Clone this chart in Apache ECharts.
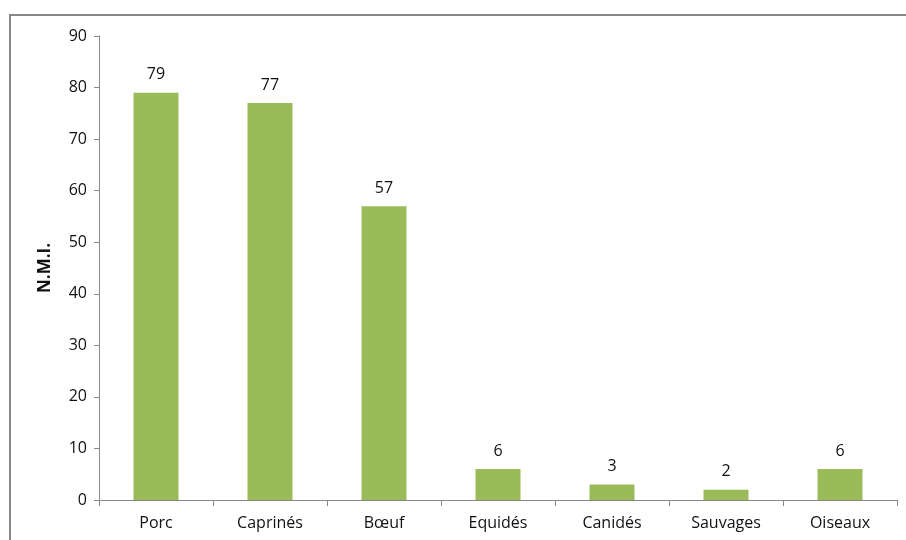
<!DOCTYPE html>
<html><head><meta charset="utf-8">
<script src="https://cdn.jsdelivr.net/npm/echarts@6/dist/echarts.min.js"></script>
<style>html,body{margin:0;padding:0;background:#fff}#c{width:906px;height:540px}</style>
</head><body><div id="c"></div>
<script>
var categories = ['Porc','Caprinés','Bœuf','Equidés','Canidés','Sauvages','Oiseaux'];
var values = [79,77,57,6,3,2,6];
var yTicks = {min:0, max:90, interval:10};
var yName = 'N.M.I.';

var chart = echarts.init(document.getElementById('c'));
var font = '"Open Sans", sans-serif';
chart.setOption({
  animation:false,
  backgroundColor:'#fff',
  graphic:[{type:'rect', shape:{x:10,y:15,width:1000,height:1000}, style:{fill:'none', stroke:'#888', lineWidth:2}}],
  grid:{left:99, right:9, top:36, bottom:40, containLabel:false},
  xAxis:{type:'category', data:categories,
    axisLine:{lineStyle:{color:'#888'}},
    axisTick:{show:true, alignWithLabel:false, length:6, lineStyle:{color:'#888'}},
    axisLabel:{color:'#111', fontSize:16, fontFamily:font, margin:15}},
  yAxis:{type:'value', min:yTicks.min, max:yTicks.max, interval:yTicks.interval,
    name:yName, nameLocation:'middle', nameGap:45, nameRotate:90,
    nameTextStyle:{fontWeight:'bold', fontSize:17, color:'#111', fontFamily:font},
    axisLine:{show:true, lineStyle:{color:'#888'}},
    axisTick:{show:true, inside:false, length:5, lineStyle:{color:'#888'}},
    splitLine:{show:false},
    axisLabel:{color:'#111', fontSize:16, fontFamily:font, margin:12}},
  series:[{type:'bar', data:values, barWidth:45,
    itemStyle:{color:'#9BBB59'},
    label:{show:true, position:'top', distance:10, color:'#111', fontSize:16, fontFamily:font}}]
});
</script></body></html>
